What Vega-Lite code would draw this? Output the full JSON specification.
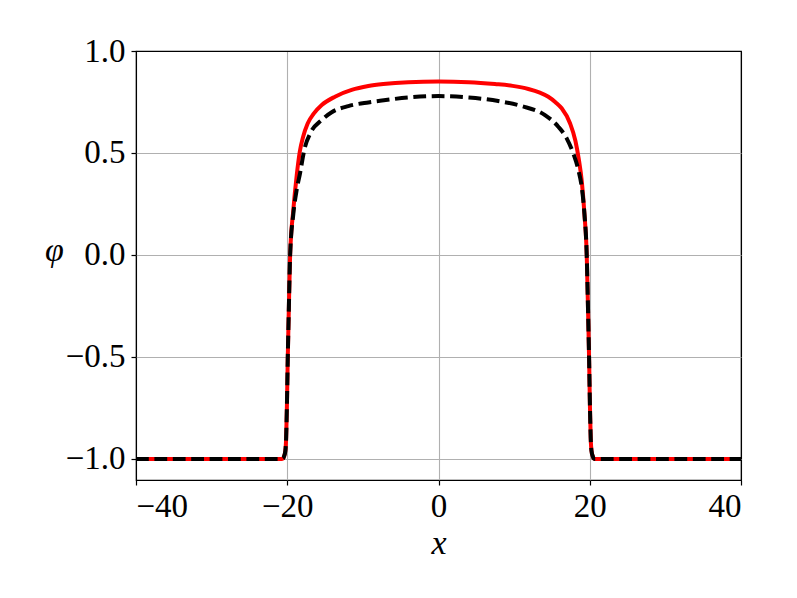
{
  "$schema": "https://vega.github.io/schema/vega-lite/v6.json",
  "width": 605,
  "height": 429,
  "autosize": {"type": "none"},
  "padding": {"left": 136, "top": 51, "right": 56, "bottom": 118},
  "background": "white",
  "config": {
    "font": "Liberation Serif",
    "view": {"stroke": "black", "strokeWidth": 1.2},
    "axis": {
      "domain": false,
      "grid": true,
      "gridWidth": 1.1,
      "tickColor": "black",
      "tickSize": 5,
      "tickWidth": 1.2,
      "labelFont": "Liberation Serif",
      "labelFontSize": 33,
      "labelColor": "black",
      "titleColor": "black",
      "titleFont": "Liberation Serif",
      "titleFontSize": 34,
      "titleFontWeight": "normal",
      "titleFontStyle": "italic"
    }
  },
  "datasets": {
    "curves": [
      {"x": -40, "phi": -1.0, "s": "red"},
      {"x": -20.75, "phi": -1.0, "s": "red"},
      {"x": -20.55, "phi": -0.997, "s": "red"},
      {"x": -20.4, "phi": -0.985, "s": "red"},
      {"x": -20.25, "phi": -0.96, "s": "red"},
      {"x": -20.15, "phi": -0.9, "s": "red"},
      {"x": -20.05, "phi": -0.75, "s": "red"},
      {"x": -19.94, "phi": -0.52, "s": "red"},
      {"x": -19.8, "phi": -0.28, "s": "red"},
      {"x": -19.62, "phi": 0.0, "s": "red"},
      {"x": -19.2, "phi": 0.22, "s": "red"},
      {"x": -18.75, "phi": 0.39, "s": "red"},
      {"x": -18.35, "phi": 0.505, "s": "red"},
      {"x": -17.9, "phi": 0.58, "s": "red"},
      {"x": -17.3, "phi": 0.645, "s": "red"},
      {"x": -16.5, "phi": 0.693, "s": "red"},
      {"x": -15.44, "phi": 0.735, "s": "red"},
      {"x": -13.69, "phi": 0.776, "s": "red"},
      {"x": -11.48, "phi": 0.809, "s": "red"},
      {"x": -9.28, "phi": 0.828, "s": "red"},
      {"x": -7.3, "phi": 0.838, "s": "red"},
      {"x": -4.0, "phi": 0.847, "s": "red"},
      {"x": 0.0, "phi": 0.85, "s": "red"},
      {"x": 4.0, "phi": 0.847, "s": "red"},
      {"x": 7.47, "phi": 0.838, "s": "red"},
      {"x": 9.8, "phi": 0.829, "s": "red"},
      {"x": 11.88, "phi": 0.814, "s": "red"},
      {"x": 13.4, "phi": 0.796, "s": "red"},
      {"x": 14.52, "phi": 0.776, "s": "red"},
      {"x": 15.5, "phi": 0.748, "s": "red"},
      {"x": 16.29, "phi": 0.719, "s": "red"},
      {"x": 17.39, "phi": 0.646, "s": "red"},
      {"x": 18.1, "phi": 0.56, "s": "red"},
      {"x": 18.55, "phi": 0.47, "s": "red"},
      {"x": 18.95, "phi": 0.36, "s": "red"},
      {"x": 19.3, "phi": 0.2, "s": "red"},
      {"x": 19.6, "phi": 0.0, "s": "red"},
      {"x": 19.78, "phi": -0.28, "s": "red"},
      {"x": 19.92, "phi": -0.52, "s": "red"},
      {"x": 20.03, "phi": -0.75, "s": "red"},
      {"x": 20.13, "phi": -0.9, "s": "red"},
      {"x": 20.23, "phi": -0.96, "s": "red"},
      {"x": 20.38, "phi": -0.985, "s": "red"},
      {"x": 20.53, "phi": -0.997, "s": "red"},
      {"x": 20.73, "phi": -1.0, "s": "red"},
      {"x": 40, "phi": -1.0, "s": "red"},

      {"x": -40, "phi": -1.0, "s": "black"},
      {"x": -20.75, "phi": -1.0, "s": "black"},
      {"x": -20.55, "phi": -0.997, "s": "black"},
      {"x": -20.4, "phi": -0.985, "s": "black"},
      {"x": -20.25, "phi": -0.96, "s": "black"},
      {"x": -20.15, "phi": -0.9, "s": "black"},
      {"x": -20.05, "phi": -0.75, "s": "black"},
      {"x": -19.94, "phi": -0.52, "s": "black"},
      {"x": -19.8, "phi": -0.28, "s": "black"},
      {"x": -19.62, "phi": 0.0, "s": "black"},
      {"x": -19.2, "phi": 0.2, "s": "black"},
      {"x": -18.75, "phi": 0.32, "s": "black"},
      {"x": -18.31, "phi": 0.4, "s": "black"},
      {"x": -17.75, "phi": 0.515, "s": "black"},
      {"x": -16.9, "phi": 0.6, "s": "black"},
      {"x": -15.44, "phi": 0.662, "s": "black"},
      {"x": -14.12, "phi": 0.7, "s": "black"},
      {"x": -11.92, "phi": 0.73, "s": "black"},
      {"x": -9.28, "phi": 0.748, "s": "black"},
      {"x": -7.5, "phi": 0.757, "s": "black"},
      {"x": -4.0, "phi": 0.772, "s": "black"},
      {"x": 0.0, "phi": 0.779, "s": "black"},
      {"x": 4.0, "phi": 0.772, "s": "black"},
      {"x": 7.9, "phi": 0.755, "s": "black"},
      {"x": 11.0, "phi": 0.73, "s": "black"},
      {"x": 14.08, "phi": 0.686, "s": "black"},
      {"x": 15.84, "phi": 0.629, "s": "black"},
      {"x": 16.95, "phi": 0.572, "s": "black"},
      {"x": 17.82, "phi": 0.498, "s": "black"},
      {"x": 18.49, "phi": 0.417, "s": "black"},
      {"x": 18.95, "phi": 0.33, "s": "black"},
      {"x": 19.3, "phi": 0.2, "s": "black"},
      {"x": 19.6, "phi": 0.0, "s": "black"},
      {"x": 19.78, "phi": -0.28, "s": "black"},
      {"x": 19.92, "phi": -0.52, "s": "black"},
      {"x": 20.03, "phi": -0.75, "s": "black"},
      {"x": 20.13, "phi": -0.9, "s": "black"},
      {"x": 20.23, "phi": -0.96, "s": "black"},
      {"x": 20.38, "phi": -0.985, "s": "black"},
      {"x": 20.53, "phi": -0.997, "s": "black"},
      {"x": 20.73, "phi": -1.0, "s": "black"},
      {"x": 40, "phi": -1.0, "s": "black"}
    ]
  },
  "data": {"name": "curves"},
  "encoding": {
    "x": {
      "field": "x",
      "type": "quantitative",
      "scale": {"domain": [-40, 40], "nice": false, "zero": false},
      "axis": {
        "values": [-40, -20, 0, 20, 40],
        "format": "d",
        "labelPadding": 5,
        "gridColor": {"condition": {"test": "abs(datum.value) == 40", "value": "black"}, "value": "#b0b0b0"},
        "title": "x",
        "titleX": 302.5,
        "titleY": 73,
        "titleAlign": "center",
        "titleBaseline": "alphabetic"
      }
    },
    "y": {
      "field": "phi",
      "type": "quantitative",
      "scale": {"domain": [-1.103, 1.0], "nice": false, "zero": false},
      "axis": {
        "values": [-1, -0.5, 0, 0.5, 1],
        "format": ".1f",
        "labelPadding": 6,
        "gridColor": {"condition": {"test": "datum.value == 1", "value": "black"}, "value": "#b0b0b0"},
        "title": "φ",
        "titleAngle": 0,
        "titleX": -82,
        "titleY": 199,
        "titleAlign": "center",
        "titleBaseline": "middle"
      }
    }
  },
  "layer": [
    {
      "transform": [{"filter": "datum.s === 'red'"}],
      "mark": {"type": "line", "color": "red", "strokeWidth": 4, "interpolate": "monotone", "clip": true}
    },
    {
      "transform": [{"filter": "datum.s === 'black'"}],
      "mark": {"type": "line", "color": "black", "strokeWidth": 4, "strokeDash": [12.8, 5.6], "interpolate": "monotone", "clip": true}
    }
  ]
}
